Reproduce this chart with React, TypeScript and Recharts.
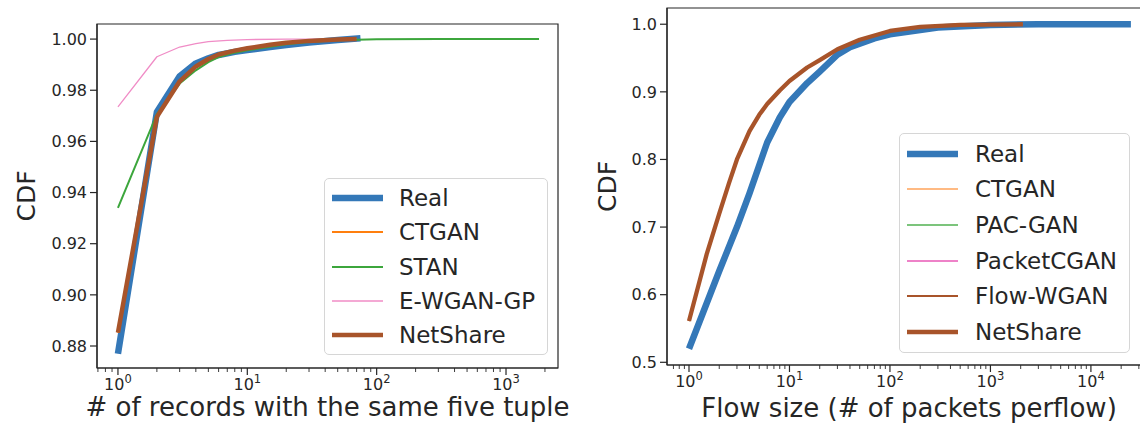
import { LineChart, Line, XAxis, YAxis, Legend, ReferenceArea } from "recharts";

// ---- left panel: # of records with the same five tuple ----
const recRealX = [1, 2, 3, 4, 5, 6, 8, 10, 15, 20, 30, 50, 75];
const recRealY = [0.877, 0.9715, 0.9855, 0.9905, 0.9925, 0.9938, 0.995, 0.9957, 0.9969, 0.9977, 0.9987, 0.9996, 1.0003];
const recNetX = [1, 2, 3, 4, 5, 6, 8, 10, 15, 20, 30, 50, 70];
const recNetY = [0.8852, 0.9696, 0.9835, 0.9893, 0.9922, 0.994, 0.9955, 0.9964, 0.9978, 0.9986, 0.9993, 0.9998, 1.0];
const recStanX = [1, 2, 3, 4, 5, 6, 8, 10, 15, 20, 30, 50, 100, 300, 1800];
const recStanY = [0.934, 0.9707, 0.9826, 0.9878, 0.991, 0.993, 0.9947, 0.9956, 0.997, 0.998, 0.9989, 0.9995, 0.9999, 1.0, 1.0];
const recEwX = [1, 2, 3, 4, 5, 7, 10, 20, 40];
const recEwY = [0.9735, 0.9931, 0.9969, 0.9982, 0.999, 0.9995, 0.9998, 1.0, 1.0];
const recYTicks = [0.88, 0.9, 0.92, 0.94, 0.96, 0.98, 1.0];

// ---- right panel: flow size ----
const flowRealX = [1, 2, 3, 4, 6, 8, 10, 15, 20, 30, 40, 70, 100, 150, 300, 1000, 3000, 25000];
const flowRealY = [0.52, 0.635, 0.7, 0.75, 0.825, 0.862, 0.885, 0.913, 0.93, 0.955, 0.966, 0.979, 0.985, 0.989, 0.995, 0.999, 1.0, 1.0];
const flowNetX = [1, 1.5, 2, 2.5, 3, 4, 5, 6, 8, 10, 15, 20, 30, 50, 100, 200, 500, 2100];
const flowNetY = [0.561, 0.66, 0.72, 0.765, 0.8, 0.842, 0.866, 0.882, 0.902, 0.916, 0.936, 0.947, 0.963, 0.977, 0.99, 0.996, 0.999, 1.0];
const flowYTicks = [0.5, 0.6, 0.7, 0.8, 0.9, 1.0];

const TXT = "#262626";
const FONT = "'DejaVu Sans', sans-serif";

const toPts = (xs: number[], ys: number[]) => xs.map((x, i) => ({ x, y: ys[i] }));

// matplotlib-style log ticks: decades + 2..9 minors inside the domain
function logTicks(lo: number, hi: number) {
  const out: number[] = [];
  for (let e = Math.floor(Math.log10(lo)); e <= Math.ceil(Math.log10(hi)); e++) {
    for (let m = 1; m <= 9; m++) {
      const v = m * Math.pow(10, e);
      if (v >= lo && v <= hi) out.push(v);
    }
  }
  return out;
}

function LogTick(props: any) {
  const { x, y, payload } = props;
  const lg = Math.log10(payload.value);
  const exp = Math.round(lg);
  const major = Math.abs(lg - exp) < 1e-6;
  return (
    <g>
      <line x1={x} x2={x} y1={y} y2={y + (major ? 7 : 4)} stroke={TXT} strokeWidth={major ? 1.2 : 0.9} />
      {major && (
        <text x={x} y={y + 22} textAnchor="middle" fontSize={16} fill={TXT} fontFamily={FONT}>
          10
          <tspan dy={-7} fontSize={11.5}>{exp}</tspan>
        </text>
      )}
    </g>
  );
}

type Series = { name: string; data: { x: number; y: number }[]; color: string; width: number };

function LegendBox({ items, rowH, gap }: { items: Series[]; rowH: number; gap: number }) {
  return (
    <div
      style={{
        background: "rgba(255,255,255,0.85)",
        border: "1px solid #d6d6d6",
        borderRadius: 5,
        padding: "2px 12px 2px 6px",
        fontFamily: FONT,
      }}
    >
      {items.map((s) => (
        <div key={s.name} style={{ display: "flex", alignItems: "center", height: rowH }}>
          <svg width={53} height={12}>
            <line x1={1} x2={52} y1={6} y2={6} stroke={s.color} strokeWidth={s.width} />
          </svg>
          <span style={{ marginLeft: gap, fontSize: 23, color: TXT, whiteSpace: "nowrap" }}>{s.name}</span>
        </div>
      ))}
    </div>
  );
}

const recSeries: Series[] = [
  { name: "Real", data: toPts(recRealX, recRealY), color: "#3478b8", width: 6.5 },
  { name: "CTGAN", data: toPts(recNetX, recNetY), color: "#ff7f0e", width: 2 },
  { name: "STAN", data: toPts(recStanX, recStanY), color: "#3ca63c", width: 2 },
  { name: "E-WGAN-GP", data: toPts(recEwX, recEwY), color: "#f08cc6", width: 1.3 },
  { name: "NetShare", data: toPts(recNetX, recNetY), color: "#a8542a", width: 4.5 },
];

const flowSeries: Series[] = [
  { name: "Real", data: toPts(flowRealX, flowRealY), color: "#3478b8", width: 6.5 },
  { name: "CTGAN", data: toPts(flowNetX, flowNetY), color: "#ffa35a", width: 1.3 },
  { name: "PAC-GAN", data: toPts(flowNetX, flowNetY), color: "#7cc47c", width: 2 },
  { name: "PacketCGAN", data: toPts(flowNetX, flowNetY), color: "#ee82c8", width: 2.2 },
  { name: "Flow-WGAN", data: toPts(flowNetX, flowNetY), color: "#a8542a", width: 2.2 },
  { name: "NetShare", data: toPts(flowNetX, flowNetY), color: "#a8542a", width: 4.3 },
];

type PanelProps = {
  width: number;
  margin: { top: number; right: number; bottom: number; left: number };
  xDomain: [number, number];
  yDomain: [number, number];
  yTicks: number[];
  yDigits: number;
  xLabel: string;
  xLabelDy: number;
  cdfX: number;
  xAxisH: number;
  series: Series[];
  legendPos: { left: number; top: number };
  rowH: number;
  gap: number;
};

function Panel(p: PanelProps) {
  const minor = logTicks(p.xDomain[0], p.xDomain[1]);
  return (
    <LineChart width={p.width} height={423} margin={p.margin}>
      <XAxis
        dataKey="x"
        type="number"
        scale="log"
        domain={p.xDomain}
        allowDataOverflow
        ticks={minor}
        interval={0}
        height={p.xAxisH}
        tickSize={0}
        tickMargin={0}
        tickLine={false}
        tick={<LogTick />}
        axisLine={{ stroke: TXT, strokeWidth: 1.2 }}
        label={(lp: any) => {
          const vb = lp.viewBox;
          return (
            <text x={vb.x + vb.width / 2} y={vb.y + p.xLabelDy} textAnchor="middle" fontSize={26} fill={TXT} fontFamily={FONT}>
              {p.xLabel}
            </text>
          );
        }}
      />
      <YAxis
        type="number"
        domain={p.yDomain}
        allowDataOverflow
        ticks={p.yTicks}
        interval={0}
        width={97}
        tickSize={7}
        tickMargin={3}
        tickFormatter={(v: number) => v.toFixed(p.yDigits)}
        tick={{ fontSize: 16, fill: TXT, fontFamily: FONT }}
        tickLine={{ stroke: TXT, strokeWidth: 1.2 }}
        axisLine={{ stroke: TXT, strokeWidth: 1.2 }}
        label={(lp: any) => {
          const vb = lp.viewBox;
          const cx = vb.x + p.cdfX;
          const cy = vb.y + vb.height / 2;
          return (
            <text
              x={cx}
              y={cy}
              transform={`rotate(-90 ${cx} ${cy})`}
              textAnchor="middle"
              dominantBaseline="central"
              fontSize={25}
              fill={TXT}
              fontFamily={FONT}
            >
              CDF
            </text>
          );
        }}
      />
      {/* full box frame like matplotlib's spines */}
      <ReferenceArea
        x1={p.xDomain[0]}
        x2={p.xDomain[1]}
        y1={p.yDomain[0]}
        y2={p.yDomain[1]}
        fill="none"
        fillOpacity={0}
        stroke={TXT}
        strokeWidth={1.2}
        ifOverflow="visible"
      />
      {p.series.map((s) => (
        <Line
          key={s.name}
          name={s.name}
          data={s.data}
          dataKey="y"
          type="linear"
          stroke={s.color}
          strokeWidth={s.width}
          strokeLinejoin="round"
          strokeLinecap="butt"
          dot={false}
          activeDot={false}
          isAnimationActive={false}
        />
      ))}
      <Legend
        layout="vertical"
        align="center"
        verticalAlign="middle"
        wrapperStyle={{ left: p.legendPos.left, top: p.legendPos.top, width: "auto" }}
        content={() => <LegendBox items={p.series} rowH={p.rowH} gap={p.gap} />}
      />
    </LineChart>
  );
}

export default function App() {
  return (
    <div
      style={{
        position: "absolute",
        left: 0,
        top: 0,
        width: 1140,
        height: 423,
        overflow: "hidden",
        background: "#fff",
        display: "flex",
        fontFamily: FONT,
      }}
    >
      <div style={{ width: 570, flex: "none" }}>
        <Panel
          width={570}
          margin={{ top: 24, right: 12, bottom: 0, left: 0 }}
          xDomain={[0.6887, 2523]}
          yDomain={[0.8714, 1.0059]}
          yTicks={recYTicks}
          yDigits={2}
          xLabel="# of records with the same five tuple"
          xLabelDy={48}
          cdfX={26}
          xAxisH={55}
          series={recSeries}
          legendPos={{ left: 324, top: 178 }}
          rowH={34.3}
          gap={15}
        />
      </div>
      <div style={{ width: 600, flex: "none" }}>
        <Panel
          width={600}
          margin={{ top: 8, right: 19, bottom: 0, left: 0 }}
          xDomain={[0.604, 39630]}
          yDomain={[0.496, 1.024]}
          yTicks={flowYTicks}
          yDigits={1}
          xLabel="Flow size (# of packets perflow)"
          xLabelDy={52}
          cdfX={37}
          xAxisH={58}
          series={flowSeries}
          legendPos={{ left: 329, top: 133 }}
          rowH={35.6}
          gap={16}
        />
      </div>
    </div>
  );
}
